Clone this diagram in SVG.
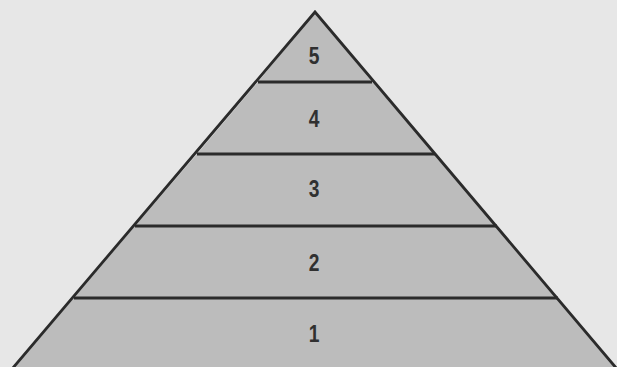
<svg xmlns="http://www.w3.org/2000/svg" width="617" height="367" viewBox="0 0 617 367">
<style>
.layer{fill:#bcbcbc;}
.edge{stroke:#2b2b2b;stroke-width:2.8;fill:none;stroke-linecap:butt;}
.lbl{font-family:"Liberation Sans","Arial",sans-serif;font-weight:bold;font-size:24px;fill:#303030;text-anchor:middle;}
</style>
<rect x="0" y="0" width="617" height="367" fill="#e7e7e7"/>
<g id="layer5"><polygon class="layer" points="315,12 372,82 258,82"/><text class="lbl" transform="translate(314,64) scale(0.8,1)">5</text></g>
<g id="layer4"><polygon class="layer" points="258,82 372,82 435,154 197,154"/><text class="lbl" transform="translate(314,127) scale(0.8,1)">4</text></g>
<g id="layer3"><polygon class="layer" points="197,154 435,154 497,226 135,226"/><text class="lbl" transform="translate(314,197) scale(0.8,1)">3</text></g>
<g id="layer2"><polygon class="layer" points="135,226 497,226 558,298 74,298"/><text class="lbl" transform="translate(314,271) scale(0.8,1)">2</text></g>
<g id="layer1"><polygon class="layer" points="74,298 558,298 617,369 12,369"/><text class="lbl" transform="translate(314,342) scale(0.8,1)">1</text></g>
<g id="connectors">
<polyline class="edge" points="12,369 315,12 617,369" stroke-linejoin="miter"/>
<line class="edge" x1="258" y1="82" x2="372" y2="82"/>
<line class="edge" x1="197" y1="154" x2="435" y2="154"/>
<line class="edge" x1="135" y1="226" x2="497" y2="226"/>
<line class="edge" x1="74" y1="298" x2="558" y2="298"/>
</g>
</svg>
